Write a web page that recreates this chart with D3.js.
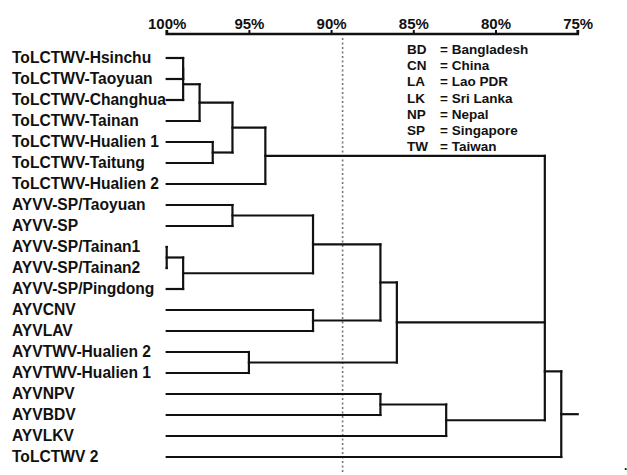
<!DOCTYPE html>
<html>
<head>
<meta charset="utf-8">
<script src="https://cdn.jsdelivr.net/npm/d3@7"></script>
<style>
  html, body { margin: 0; padding: 0; background: #fff; }
  svg { display: block; }
  text { font-family: "Liberation Sans", Arial, Helvetica, sans-serif; font-weight: bold; fill: #111; }
</style>
</head>
<body>
<svg id="chart" width="627" height="475"></svg>
<script>
// ---- data ----
const axisTicks = [100, 95, 90, 85, 80, 75];
const cutoff = 89.3;

const leaves = [
  "ToLCTWV-Hsinchu", "ToLCTWV-Taoyuan", "ToLCTWV-Changhua", "ToLCTWV-Tainan",
  "ToLCTWV-Hualien 1", "ToLCTWV-Taitung", "ToLCTWV-Hualien 2",
  "AYVV-SP/Taoyuan", "AYVV-SP", "AYVV-SP/Tainan1", "AYVV-SP/Tainan2", "AYVV-SP/Pingdong",
  "AYVCNV", "AYVLAV", "AYVTWV-Hualien 2", "AYVTWV-Hualien 1",
  "AYVNPV", "AYVBDV", "AYVLKV", "ToLCTWV 2"
];

// [node id, children, identity (%)]
const merges = [
  ["t1", ["ToLCTWV-Hsinchu", "ToLCTWV-Taoyuan"], 99],
  ["t2", ["t1", "ToLCTWV-Changhua"], 99],
  ["t3", ["t2", "ToLCTWV-Tainan"], 98],
  ["t4", ["ToLCTWV-Hualien 1", "ToLCTWV-Taitung"], 97.2],
  ["t5", ["t3", "t4"], 96],
  ["t6", ["t5", "ToLCTWV-Hualien 2"], 94],
  ["a1", ["AYVV-SP/Taoyuan", "AYVV-SP"], 96],
  ["a2", ["AYVV-SP/Tainan1", "AYVV-SP/Tainan2"], 100],
  ["a3", ["a2", "AYVV-SP/Pingdong"], 99],
  ["a4", ["a1", "a3"], 91.1],
  ["a5", ["AYVCNV", "AYVLAV"], 91.1],
  ["a6", ["a4", "a5"], 87],
  ["a7", ["AYVTWV-Hualien 2", "AYVTWV-Hualien 1"], 95],
  ["a8", ["a6", "a7"], 86],
  ["b1", ["AYVNPV", "AYVBDV"], 87],
  ["b2", ["b1", "AYVLKV"], 83],
  ["c1", ["t6", "a8", "b2"], 77],
  ["root", ["c1", "ToLCTWV 2"], 76]
];

const legendCodes = ["BD", "CN", "LA", "LK", "NP", "SP", "TW"];
const legendNames = ["Bangladesh", "China", "Lao PDR", "Sri Lanka", "Nepal", "Singapore", "Taiwan"];

// ---- build hierarchy ----
const mergeMap = new Map(merges.map(m => [m[0], m]));
function build(id) {
  const m = mergeMap.get(id);
  if (!m) return { name: id, value: 100 };
  return { name: id, value: m[2], children: m[1].map(build) };
}
const root = d3.hierarchy(build("root"));

const svg = d3.select("#chart");
const x = d3.scaleLinear().domain([100, 75]).range([166.7, 577.7]);
const y = d3.scalePoint().domain(leaves).range([58, 457]);

// compute positions
root.eachAfter(n => {
  n.px = x(n.data.value);
  if (!n.children) { n.py = y(n.data.name); }
  else {
    const c = n.children;
    n.py = (c[c.length - 2].py + c[c.length - 1].py) / 2;
  }
});

// ---- axis ----
const axisG = svg.append("g").attr("transform", "translate(0,34)")
  .call(d3.axisTop(x).tickValues(axisTicks).tickFormat(d => d + "%").tickSize(4).tickSizeOuter(4).tickPadding(1.5));
axisG.select(".domain").attr("stroke", "#111").attr("stroke-width", 2.6).attr("d", `M${x(100)},-4V0H${x(75)}V-4`);
axisG.selectAll(".tick line").attr("stroke", "#111").attr("stroke-width", 2);
axisG.selectAll(".tick text").attr("font-size", 15).attr("font-family", '"Liberation Sans", Arial, sans-serif')
  .attr("font-weight", "bold").attr("fill", "#111");

// cutoff line
svg.append("line")
  .attr("x1", x(cutoff)).attr("x2", x(cutoff))
  .attr("y1", 38).attr("y2", 473)
  .attr("stroke", "#777").attr("stroke-width", 1.6).attr("stroke-dasharray", "2,2.5");

// ---- tree ----
const g = svg.append("g").attr("fill", "none").attr("stroke", "#111").attr("stroke-width", 2.2).attr("stroke-linecap", "square");
root.descendants().forEach(n => {
  if (n.children) {
    const ys = n.children.map(c => c.py);
    g.append("line").attr("x1", n.px).attr("x2", n.px).attr("y1", d3.min(ys)).attr("y2", d3.max(ys));
    n.children.forEach(c => {
      if (c.px !== n.px || !c.children) {
        g.append("line").attr("x1", c.px).attr("x2", n.px).attr("y1", c.py).attr("y2", c.py);
      }
    });
  }
});
// root stub
g.append("line").attr("x1", root.px).attr("x2", x(75)).attr("y1", root.py).attr("y2", root.py);

// leaf labels
svg.append("g").selectAll("text").data(leaves).join("text")
  .attr("x", 12).attr("y", d => y(d) + 5.4)
  .attr("font-size", 15.6)
  .text(d => d);

// legend
const lg = svg.append("g");
legendCodes.forEach((c, i) => {
  lg.append("text").attr("x", 407).attr("y", 54 + i * 16.2).attr("font-size", 13.5).text(c);
  lg.append("text").attr("x", 440).attr("y", 54 + i * 16.2).attr("font-size", 13.5).text("= " + legendNames[i]);
});

// stray mark at bottom right
svg.append("text").attr("x", 624).attr("y", 470).attr("font-size", 12).text(".");
</script>
</body>
</html>
